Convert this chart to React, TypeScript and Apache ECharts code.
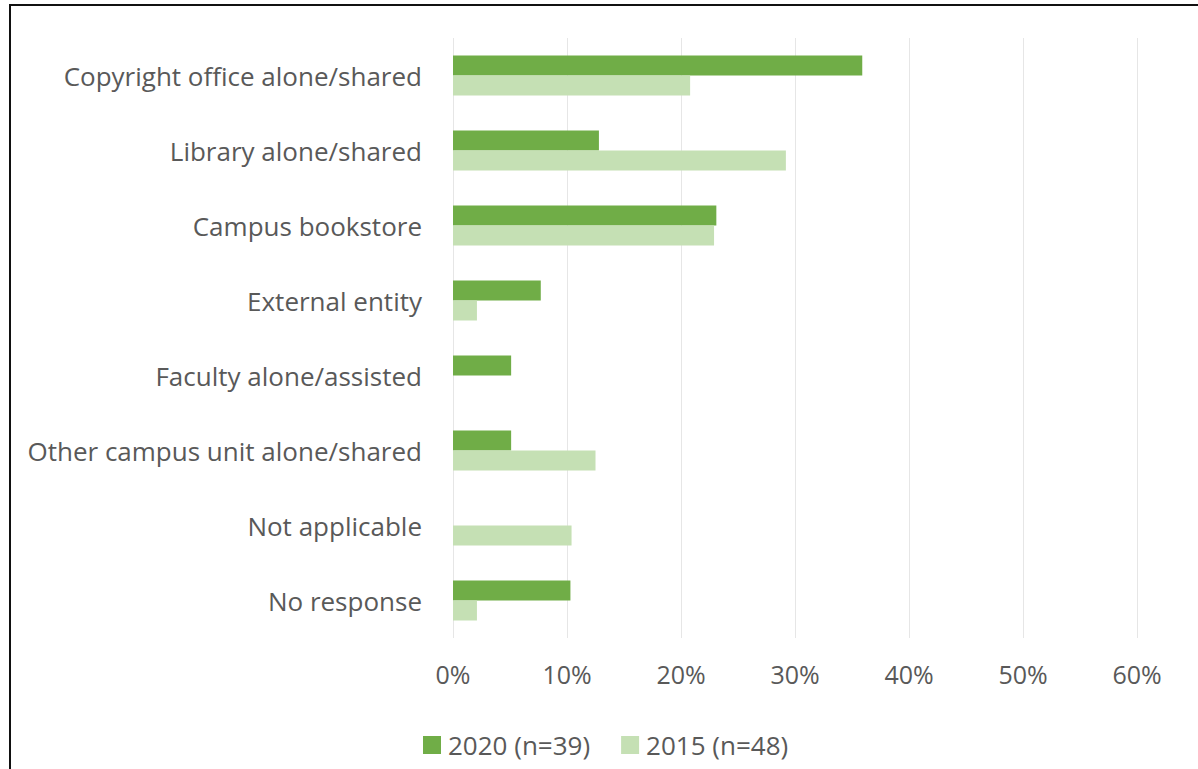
import React, { useEffect, useRef } from "react";
import * as echarts from "echarts";

const categories = [
  "Copyright office alone/shared",
  "Library alone/shared",
  "Campus bookstore",
  "External entity",
  "Faculty alone/assisted",
  "Other campus unit alone/shared",
  "Not applicable",
  "No response",
];
const series2020 = [35.9, 12.8, 23.1, 7.7, 5.1, 5.1, 0, 10.3];
const series2015 = [20.8, 29.2, 22.9, 2.1, 0, 12.5, 10.4, 2.1];
const seriesNames = ["2020 (n=39)", "2015 (n=48)"];
const xTicks = [0, 10, 20, 30, 40, 50, 60];

const FONT = "'Open Sans', 'Noto Sans', sans-serif";
const TEXT = "#595959";

export default function App() {
  const ref = useRef<HTMLDivElement>(null);
  useEffect(() => {
    if (!ref.current) return;
    const chart = echarts.init(ref.current, undefined, { renderer: "svg" });
    chart.setOption({
      animation: false,
      backgroundColor: "#ffffff",
      graphic: [
        {
          type: "rect",
          shape: { x: 10, y: 5, width: 1300, height: 900 },
          style: { fill: "none", stroke: "#111111", lineWidth: 2 },
          silent: true,
        },
      ],
      grid: { left: 453, right: 61, top: 38, bottom: 131, containLabel: false },
      legend: {
        data: seriesNames,
        top: 727,
        left: 418,
        itemWidth: 18,
        itemHeight: 18,
        itemGap: 31,
        icon: "rect",
        textStyle: { color: TEXT, fontSize: 26, fontFamily: FONT, padding: [0, 0, 0, 2] },
      },
      xAxis: {
        type: "value",
        min: xTicks[0],
        max: xTicks[xTicks.length - 1],
        interval: 10,
        axisLine: { show: false },
        axisTick: { show: false },
        splitLine: { show: true, lineStyle: { color: "#e6e6e6", width: 1 } },
        axisLabel: {
          formatter: (v: number) => `${v}%`,
          color: TEXT,
          fontSize: 25,
          fontFamily: FONT,
          margin: 23,
        },
      },
      yAxis: {
        type: "category",
        data: categories,
        inverse: true,
        axisLine: { show: false },
        axisTick: { show: false },
        axisLabel: { color: TEXT, fontSize: 26, fontFamily: FONT, margin: 31 },
      },
      series: [
        {
          name: seriesNames[0],
          type: "bar",
          data: series2020,
          barWidth: 20,
          barGap: "0%",
          itemStyle: { color: "#70AD47" },
        },
        {
          name: seriesNames[1],
          type: "bar",
          data: series2015,
          barWidth: 20,
          barGap: "0%",
          itemStyle: { color: "#C5E0B4" },
        },
      ],
    });
    return () => chart.dispose();
  }, []);
  return (
    <div
      ref={ref}
      style={{ width: 1198, height: 769, position: "fixed", left: 0, top: 0 }}
    />
  );
}
